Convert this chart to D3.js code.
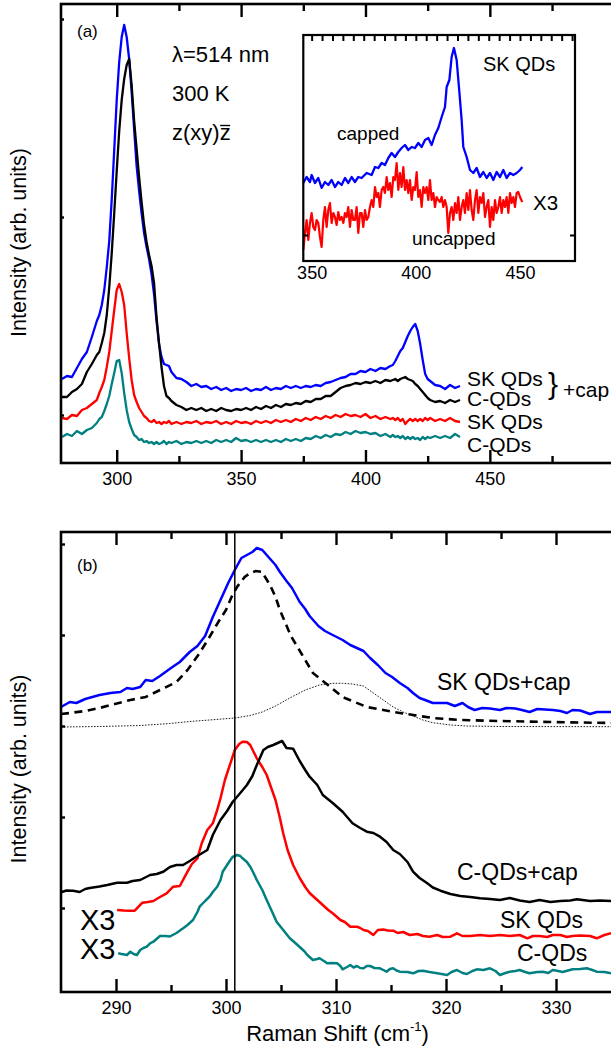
<!DOCTYPE html>
<html>
<head>
<meta charset="utf-8">
<script src="https://cdn.jsdelivr.net/npm/d3@7"></script>
<style>
  html, body { margin: 0; padding: 0; background: #fff; }
  svg { display: block; font-family: "Liberation Sans", Arial, Helvetica, sans-serif; }
</style>
</head>
<body>
<svg id="chart" width="611" height="1051"></svg>
<script>
// ---------- Panel (a): full Raman spectra, shared wavenumber grid (cm-1) ----------
const shiftA = [
  278, 280, 282, 284, 286, 288, 290, 292,
  293, 294, 295, 296, 297, 298, 299, 300, 301, 302,
  303, 304, 305, 306, 307, 308, 309, 310, 311, 312,
  313, 314, 315, 316, 317, 318, 319, 320, 321, 322,
  324, 326, 328, 330, 332, 334, 336, 338, 340, 342,
  344, 346, 348, 350, 352, 354, 356, 358, 360, 362,
  364, 366, 368, 370, 372, 374, 376, 378, 380, 382,
  384, 386, 388, 390, 392, 394, 396, 398, 400, 402,
  404, 406, 408, 410,
  411, 412, 413, 414, 415, 416, 417, 418, 419, 420,
  421, 422, 423, 424, 425, 426,
  428, 430, 432, 434, 436, 438
];
// SK QDs + cap
const skCapA = [
  84, 87, 86, 95, 104, 111, 126, 142,
  148, 158, 173, 196, 222, 264, 313, 363, 401, 426,
  438, 426, 404, 371, 334, 297, 272, 250, 230, 216,
  204, 189, 169, 142, 119, 106, 99, 98, 97, 91,
  85, 84, 81, 77, 79, 76, 77, 74, 76, 73,
  75, 72, 74, 73, 75, 72, 74, 73, 76, 73,
  75, 74, 77, 75, 77, 75, 77, 76, 78, 77,
  80, 81, 83, 85, 86, 89, 89, 92, 91, 94,
  92, 95, 94, 97,
  98, 102, 107, 112, 115, 121, 127, 132, 136, 139,
  132, 119, 103, 89, 84, 82,
  78, 77, 74, 78, 75, 77
];
// C-QDs + cap
const cCapA = [
  66, 66, 71, 74, 79, 91, 99, 108,
  111, 120, 130, 148, 176, 210, 250, 292, 332, 363,
  384, 398, 404, 378, 342, 314, 286, 261, 238, 221,
  208, 197, 180, 146, 120, 96, 77, 67, 65, 62,
  58, 56, 53, 55, 53, 55, 52, 54, 52, 55,
  53, 52, 54, 53, 55, 53, 56, 54, 57, 55,
  58, 56, 59, 58, 60, 59, 62, 61, 64, 64,
  67, 67, 71, 75, 77, 78, 80, 79, 81, 80,
  82, 80, 83, 82,
  83, 84, 82, 84, 85, 86, 84, 83, 82, 79,
  77, 74, 71, 68, 65, 63,
  61, 62, 60, 63, 61, 63
];
// SK QDs (uncapped)
const skA = [
  45, 44, 48, 47, 53, 55, 59, 63,
  70, 76, 83, 96, 111, 132, 153, 173, 179, 171,
  158, 130, 105, 83, 68, 61, 55, 51, 47, 45,
  42, 41, 43, 40, 41, 39, 41, 40, 42, 39,
  41, 39, 41, 40, 42, 39, 41, 40, 42, 39,
  41, 39, 42, 40, 41, 39, 42, 40, 42, 40,
  43, 41, 43, 41, 44, 42, 45, 43, 46, 44,
  47, 45, 48, 46, 49, 47, 48, 46, 49, 45,
  47, 44, 46, 44,
  45, 43, 45, 42, 44, 39, 42, 44, 42, 44,
  42, 44, 42, 45, 43, 45,
  42, 44, 42, 45, 42, 41
];
// C-QDs (uncapped)
const cA = [
  26, 29, 27, 32, 29, 33, 35, 40,
  44, 46, 52, 59, 67, 79, 90, 102, 103, 90,
  70, 53, 41, 34, 28, 26, 23, 24, 21, 22,
  20, 21, 19, 21, 19, 20, 22, 19, 21, 20,
  22, 19, 21, 20, 22, 20, 22, 20, 23, 21,
  23, 21, 25, 22, 23, 21, 23, 21, 23, 21,
  23, 21, 24, 22, 24, 22, 25, 24, 27, 25,
  28, 26, 29, 28, 31, 29, 32, 30, 31, 29,
  30, 27, 29, 26,
  28, 26, 27, 25, 27, 24, 26, 24, 26, 24,
  25, 23, 26, 24, 26, 25,
  27, 25, 27, 25, 29, 26
];
const ticksMajorA = [300, 350, 400, 450];
const ticksMinorA = [325, 375, 425, 475];
const ticksLeftA = [48, 246, 444];

// ---------- Inset: SK QDs, capped vs uncapped (x3), [shift, intensity] ----------
const insetCapped = [
  [346.0,78],[347.6,84],[349.2,79],[350.0,86],[351.6,78],[353.2,83],[354.8,73],[356.4,79],
  [358.0,76],[359.6,81],[361.2,74],[362.8,79],[364.4,76],[366.0,83],[367.6,78],[369.2,84],
  [370.8,79],[372.4,84],[374.0,83],[376.4,88],[378.8,86],[380.4,94],[382.0,93],[383.6,98],
  [385.2,96],[386.8,103],[388.4,108],[390.0,104],[391.6,109],[393.2,113],[394.8,116],[396.4,111],
  [398.0,114],[399.6,113],[401.2,118],[402.8,114],[404.4,121],[406.0,123],[407.6,116],[409.2,126],
  [410.8,133],[412.4,144],[414.0,154],[414.8,174],[416.1,181],[417.2,204],[418.3,213],[419.6,201],
  [420.7,174],[422.0,141],[422.8,114],[424.4,104],[426.0,91],[427.6,88],[429.2,93],[430.8,84],
  [432.4,89],[434.0,83],[435.6,88],[437.2,81],[438.8,89],[440.4,84],[442.0,91],[443.6,83],
  [445.2,88],[446.8,86],[448.4,88],[450.0,91],[451.1,94]
];
const insetUncapped = [
  [346.0,11],[346.8,28],[347.6,41],[348.4,21],[349.2,38],[350.0,48],[350.8,34],[351.6,31],
  [352.4,41],[353.2,38],[354.0,24],[354.8,14],[355.6,41],[356.4,54],[357.2,34],[358.0,51],
  [358.8,58],[359.6,38],[360.4,48],[361.2,44],[362.0,36],[362.8,49],[363.6,41],[364.4,44],
  [365.2,38],[366.0,48],[366.8,44],[367.6,54],[368.4,34],[369.2,51],[370.0,41],[370.8,41],
  [371.6,54],[372.4,28],[373.2,48],[374.0,48],[374.8,34],[375.6,51],[376.4,41],[377.2,44],
  [378.0,54],[378.8,61],[379.6,54],[380.4,74],[381.2,64],[382.0,68],[382.8,54],[383.6,71],
  [384.4,74],[385.2,68],[386.0,84],[386.8,71],[387.6,78],[388.4,64],[389.2,84],[390.0,81],
  [390.8,98],[391.6,71],[392.4,88],[393.2,74],[394.0,94],[394.8,71],[395.6,81],[396.4,68],
  [397.2,81],[398.0,61],[398.8,74],[399.6,71],[400.4,89],[401.2,64],[402.0,71],[402.8,54],
  [403.6,74],[404.4,68],[405.2,74],[406.0,61],[406.8,81],[407.6,61],[408.4,68],[409.2,54],
  [410.0,64],[410.8,61],[411.6,59],[412.4,64],[413.2,54],[414.0,61],[414.8,54],[415.6,28],
  [416.4,48],[417.2,54],[418.0,41],[418.8,58],[419.6,48],[420.4,64],[421.2,41],[422.0,54],
  [422.8,61],[423.6,48],[424.4,68],[425.2,51],[426.0,71],[426.8,51],[427.6,41],[428.4,61],
  [429.2,71],[430.0,48],[430.8,64],[431.6,58],[432.4,68],[433.2,44],[434.0,54],[434.8,61],
  [435.6,34],[436.4,54],[437.2,41],[438.0,61],[438.8,48],[439.6,54],[440.4,64],[441.2,48],
  [442.0,61],[442.8,54],[443.6,64],[444.4,48],[445.2,68],[446.0,58],[446.8,64],[447.6,54],
  [448.4,68],[449.2,69],[450.0,64],[451.1,59]
];
const ticksInsetLabels = [350, 400, 450];
const ticksInsetTop = [350,355,360,365,370,375,380,385,390,395,400,405,410,415,420,425,430,435,440,445,450,455,460,465,470,475];
const ticksInsetSide = [26];

// ---------- Panel (b): zoom on the optical phonon region, [shift, intensity] ----------
const skCapB = [
  [285.0,285],[285.8,290],[286.4,289],[287.2,293],[288.5,297],[289.5,299],[290.4,300],[291.0,304],
  [291.5,303],[292.2,305],[292.7,312],[293.3,311],[294.0,316],[295.0,324],[295.8,330],[296.7,340],
  [297.4,346],[298.1,356],[298.8,375],[299.5,392],[300.2,409],[300.8,422],[301.4,434],[301.9,437],
  [302.4,440],[302.8,444],[303.3,442],[303.7,437],[304.5,427],[304.9,420],[305.5,411],[306.0,404],
  [306.7,390],[307.2,383],[307.6,376],[308.4,366],[309.0,361],[309.7,357],[310.6,352],[311.3,347],
  [311.9,344],[312.5,341],[313.1,334],[313.8,327],[314.5,319],[315.1,315],[315.8,309],[316.5,304],
  [317.0,299],[317.6,294],[318.1,292],[318.8,289],[319.5,289],[320.1,289],[320.8,286],[321.5,289],
  [322.0,285],[322.6,282],[323.3,284],[324.0,283.5],[324.9,282],[325.5,284],[326.3,283.5],[326.9,282],
  [327.6,280],[328.3,283],[329.0,282.5],[329.7,282],[330.4,281],[331.0,279],[331.5,282],[332.2,281.5],
  [333.1,278],[333.7,280],[335.0,280]
];
// Fitted components of the SK QDs + cap spectrum
const fitMainB = [
  [285.0,278],[285.8,279],[287.2,281],[288.5,284],[289.9,288],[291.3,292],[292.7,295],[294.0,302],
  [295.5,310],[296.5,322],[297.6,339],[298.5,355],[299.3,370],[300.0,382],[300.5,395],[301.0,405],
  [301.7,415],[302.2,419],[302.7,421],[303.3,420],[303.5,416],[304.0,407],[304.5,395],[304.9,382],
  [305.4,369],[305.9,356],[306.5,345],[307.2,332],[307.9,319],[308.7,312],[309.5,305],[310.6,295],
  [311.7,290],[312.8,285],[314.3,282],[315.8,279],[317.6,276],[318.8,274],[321.3,272],[324.9,271],
  [329.5,270],[335.0,269]
];
const fitSecondB = [
  [285.0,265],[288.5,265.5],[292.2,266.5],[294.9,268.5],[296.7,270.5],[298.5,272],[300.8,274],[302.2,276.5],
  [303.3,280],[304.5,286],[305.8,294],[307.2,302],[308.5,307],[309.7,308.7],[310.6,308.7],[311.5,308],
  [312.5,306],[313.4,299],[314.3,292],[315.2,285],[316.1,280],[317.0,276],[317.9,272],[318.8,269.3],
  [320.4,267],[321.9,266],[324.9,265.5],[335.0,265.3]
];
const cCapB = [
  [285.0,99.7],[285.5,101.5],[286.1,101.3],[286.7,100],[287.2,103],[287.6,104],[288.5,105.5],[289.2,107],
  [290.1,109.3],[291.0,109.3],[291.5,111],[292.2,112],[293.1,117],[293.7,118],[294.3,120.3],[294.9,125],
  [295.5,127],[296.1,127],[296.7,131],[297.4,136],[298.3,142],[298.8,157],[299.5,172],[300.1,181],
  [300.6,190],[301.3,199],[301.9,207],[302.4,216],[302.8,227],[303.4,242],[303.8,245],[304.3,247],
  [304.7,249],[305.1,251],[305.5,244],[306.1,243.3],[306.7,231],[307.2,222],[307.6,215.3],[308.3,207],
  [308.8,197],[309.7,189],[310.6,180.3],[311.5,168.7],[312.2,164],[312.8,160.3],[313.4,159],[314.0,155.3],
  [314.6,150],[315.2,142],[315.8,138],[316.5,130],[317.0,120.3],[317.6,114],[318.3,108.7],[318.8,104.5],
  [319.5,101.3],[320.4,98],[321.3,96],[322.2,95],[323.1,93.7],[324.0,93],[324.9,92],[325.8,94],
  [326.7,91.5],[327.6,90],[328.5,92],[329.5,90],[330.4,91],[331.3,91.5],[331.9,92.7],[333.1,91],
  [334.0,91.5],[335.0,91]
];
const skB = [
  [290.1,82],[290.7,81.5],[291.2,81.3],[291.7,81.3],[292.4,89.3],[292.9,90],[293.4,91],[294.0,95],
  [294.6,98.7],[295.2,105.3],[295.8,106],[296.5,120.3],[296.9,128],[297.4,133.7],[297.8,149],[298.3,162],
  [298.8,168.7],[299.2,182],[299.5,193.7],[299.9,212],[300.4,228.7],[300.8,242],[301.2,248],[301.5,250.3],
  [301.9,250],[302.2,247],[302.8,233.7],[303.3,225],[303.7,217],[304.5,192],[304.9,174],[305.2,158.7],
  [305.6,142],[306.1,127],[306.7,114],[307.2,105],[307.6,99],[308.3,92],[308.8,87],[309.3,82],
  [309.7,78.7],[310.4,72],[310.8,70],[311.3,65.3],[311.9,65.3],[312.2,64],[312.5,62],[312.9,61],
  [313.4,57],[313.8,62],[314.3,62.5],[314.7,61.5],[315.2,61.3],[315.6,59],[316.1,60],[316.7,57],
  [317.4,58],[317.9,56],[318.5,55.3],[319.2,57],[319.7,55],[320.4,55.3],[321.0,58.7],[321.5,56],
  [322.2,56],[323.1,57],[324.0,56],[324.9,57],[325.8,56],[326.7,57],[327.4,53.7],[327.9,56],
  [328.5,56],[329.2,55],[329.7,57],[330.4,57],[331.0,55],[331.5,56],[332.2,56.5],[333.1,56],
  [333.7,53.7],[334.4,57],[335.0,58.7]
];
const cB = [
  [290.2,38.7],[290.5,38],[291.0,37],[291.3,40.3],[291.6,38],[291.9,37],[292.2,42],[292.5,44],
  [292.8,45.3],[293.1,48.7],[293.4,50.3],[294.0,56],[294.5,56],[294.9,55.5],[295.5,59],[296.1,63.7],
  [296.5,67],[297.0,72],[297.4,80],[297.6,85.3],[298.1,91],[298.5,95.3],[298.8,100],[299.2,105.3],
  [299.5,112],[299.7,120.3],[300.1,127],[300.4,132],[300.6,135],[301.0,137],[301.3,136],[301.5,133.7],
  [301.9,130],[302.2,125.3],[302.5,119],[302.8,112],[303.3,102],[303.7,92],[304.2,80],[304.6,70.3],
  [305.2,62],[305.8,53.7],[306.3,49],[306.7,45],[307.1,41],[307.4,37],[307.6,35],[307.9,32],
  [308.3,33],[308.5,33.7],[308.9,31],[309.2,28.7],[309.6,29],[310.1,28.7],[310.4,26],[310.6,22.7],
  [311.0,25],[311.3,27],[311.6,24.5],[311.9,26],[312.2,24],[312.5,23.7],[312.8,26],[313.1,26],
  [313.5,24],[314.0,23.7],[314.3,22],[314.6,20.3],[314.9,23],[315.2,23.7],[315.5,21.5],[315.8,20.3],
  [316.5,20],[317.0,18.7],[317.5,21],[317.9,21.3],[318.5,20],[319.2,18.7],[319.6,18],[320.1,17],
  [320.5,20],[321.0,22],[321.5,19],[321.9,18],[322.4,21],[322.8,22.7],[323.4,22],[324.0,23.7],
  [324.5,21],[324.9,17],[325.4,19],[325.8,20.3],[326.3,21],[326.7,22],[327.2,20],[327.6,18.7],
  [328.3,20],[328.8,20.3],[329.3,19],[329.7,22],[330.2,21],[330.6,20],[331.1,21.5],[331.5,22.7],
  [332.2,23],[332.8,23.7],[333.3,22],[333.7,20.3],[334.4,20],[335.0,18.7]
];
const bulkShift = [300.8];
const ticksMajorB = [290, 300, 310, 320, 330];
const ticksMinorB = [295, 305, 315, 325];
const ticksLeftB = [84, 175, 266, 357, 448];

// ---------- drawing ----------
const svg = d3.select("#chart");
svg.append("rect").attr("width", 611).attr("height", 1051).attr("fill", "#fff");

const COL = { blue: "#0000ff", red: "#ff0000", black: "#000000", teal: "#008080" };

function styleAxis(g, fontSize, tickWidth) {
  g.select(".domain").remove();
  g.selectAll(".tick line").attr("stroke", "#000").attr("stroke-width", tickWidth);
  g.selectAll(".tick text").attr("fill", "#000").attr("font-size", fontSize)
    .attr("font-family", "'Liberation Sans', Arial, sans-serif");
}

function frameAxes(root, x, y, box, opt) {
  // bottom major ticks with labels
  root.append("g").attr("transform", `translate(0,${box.bottom})`)
    .call(d3.axisBottom(x).tickValues(opt.major).tickSize(-opt.majorLen).tickPadding(opt.pad).tickFormat(d3.format("d")))
    .call(g => styleAxis(g, opt.fs, opt.tw));
  if (opt.minor) {
    root.append("g").attr("transform", `translate(0,${box.bottom})`)
      .call(d3.axisBottom(x).tickValues(opt.minor).tickSize(-opt.minorLen).tickFormat(""))
      .call(g => styleAxis(g, opt.fs, opt.tw));
  }
  // top ticks
  root.append("g").attr("transform", `translate(0,${box.top})`)
    .call(d3.axisTop(x).tickValues(opt.topMajor || opt.major).tickSize(-(opt.topLen || opt.majorLen)).tickFormat(""))
    .call(g => styleAxis(g, opt.fs, opt.tw));
  if (opt.minor && !opt.topMajor) {
    root.append("g").attr("transform", `translate(0,${box.top})`)
      .call(d3.axisTop(x).tickValues(opt.minor).tickSize(-opt.minorLen).tickFormat(""))
      .call(g => styleAxis(g, opt.fs, opt.tw));
  }
  // left (and optional right) ticks
  root.append("g").attr("transform", `translate(${box.left},0)`)
    .call(d3.axisLeft(y).tickValues(opt.left).tickSize(-opt.leftLen).tickFormat(""))
    .call(g => styleAxis(g, opt.fs, opt.tw));
  if (opt.right) {
    root.append("g").attr("transform", `translate(${box.right},0)`)
      .call(d3.axisRight(y).tickValues(opt.left).tickSize(-opt.leftLen).tickFormat(""))
      .call(g => styleAxis(g, opt.fs, opt.tw));
  }
  // frame
  root.append("rect")
    .attr("x", box.left).attr("y", box.top)
    .attr("width", box.right - box.left).attr("height", box.bottom - box.top)
    .attr("fill", "none").attr("stroke", "#000").attr("stroke-width", opt.frameW);
}

function addText(root, x, y, str, size, anchor) {
  return root.append("text").attr("x", x).attr("y", y).attr("font-size", size)
    .attr("text-anchor", anchor || "start").attr("fill", "#000").text(str);
}

// ===== Panel (a) =====
const boxA = { left: 61, right: 614, top: 4, bottom: 463 };
const xA = d3.scaleLinear().domain([277.6, 498.7]).range([61, 611]);
const yA = d3.scaleLinear().domain([0, 460]).range([463, 3]);
const gA = svg.append("g");

const lineA = d3.line().x(d => xA(d[0])).y(d => yA(d[1]));
[[cA, COL.teal], [skA, COL.red], [skCapA, COL.blue], [cCapA, COL.black]].forEach(([vals, c]) => {
  gA.append("path").datum(d3.zip(shiftA, vals)).attr("d", lineA)
    .attr("fill", "none").attr("stroke", c).attr("stroke-width", 2.3).attr("stroke-linejoin", "round");
});

frameAxes(gA, xA, yA, boxA, {
  major: ticksMajorA, minor: ticksMinorA, majorLen: 13, minorLen: 7, pad: 9.5, fs: 18, tw: 2.4,
  left: ticksLeftA, leftLen: 3, frameW: 2.6
});

addText(gA, 77, 37, "(a)", 17);
addText(gA, 172, 62, "λ=514 nm", 22);
addText(gA, 172, 101, "300 K", 22);
const geom = addText(gA, 172, 140, "z(xy)z", 22);
{
  // bar over the final z (backscattering direction)
  const node = geom.node();
  const x0 = node.getStartPositionOfChar(5).x, x1 = node.getEndPositionOfChar(5).x;
  gA.append("line").attr("x1", x0 + 0.5).attr("x2", x1 - 0.5).attr("y1", 125.5).attr("y2", 125.5)
    .attr("stroke", "#000").attr("stroke-width", 1.4);
}
addText(gA, 467, 386, "SK QDs", 21);
addText(gA, 467, 406, "C-QDs", 21);
addText(gA, 467, 429, "SK QDs", 21);
addText(gA, 467, 452, "C-QDs", 21);
addText(gA, 548, 394, "}", 30);
addText(gA, 563, 397, "+cap", 21);

gA.append("text").attr("transform", "translate(26,242.5) rotate(-90)")
  .attr("text-anchor", "middle").attr("font-size", 21.5).text("Intensity (arb. units)");

// ===== Inset =====
const boxI = { left: 303.3, right: 575, top: 35, bottom: 261 };
const xI = d3.scaleLinear().domain([346, 476.4]).range([303.3, 575]);
const yI = d3.scaleLinear().domain([0, 226]).range([261, 35]);
const gI = svg.append("g");
gI.append("rect").attr("x", boxI.left).attr("y", boxI.top).attr("width", boxI.right - boxI.left)
  .attr("height", boxI.bottom - boxI.top).attr("fill", "#fff");
const lineI = d3.line().x(d => xI(d[0])).y(d => yI(d[1]));
gI.append("path").datum(insetUncapped).attr("d", lineI).attr("fill", "none")
  .attr("stroke", COL.red).attr("stroke-width", 2.2).attr("stroke-linejoin", "round");
gI.append("path").datum(insetCapped).attr("d", lineI).attr("fill", "none")
  .attr("stroke", COL.blue).attr("stroke-width", 2.3).attr("stroke-linejoin", "round");
frameAxes(gI, xI, yI, boxI, {
  major: ticksInsetLabels, majorLen: 0, pad: 5.5, fs: 18, tw: 2,
  topMajor: ticksInsetTop, topLen: 6,
  left: ticksInsetSide, leftLen: 5, right: true, frameW: 2.2
});
addText(gI, 483, 71, "SK QDs", 20);
addText(gI, 337, 140, "capped", 19);
addText(gI, 533, 210, "X3", 20.5);
addText(gI, 412, 245, "uncapped", 19);

// ===== Panel (b) =====
const boxB = { left: 61, right: 614, top: 532, bottom: 992 };
const xB = d3.scaleLinear().domain([285, 335]).range([61, 611]);
const yB = d3.scaleLinear().domain([0, 460]).range([992, 532]);
const gB = svg.append("g");
const lineB = d3.line().x(d => xB(d[0])).y(d => yB(d[1]));

gB.append("path").datum(fitSecondB).attr("d", lineB).attr("fill", "none")
  .attr("stroke", "#222").attr("stroke-width", 1).attr("stroke-dasharray", "1.6,1.4");
gB.append("path").datum(fitMainB).attr("d", lineB).attr("fill", "none")
  .attr("stroke", "#000").attr("stroke-width", 2.6).attr("stroke-dasharray", "8,5.5");
[[cB, COL.teal], [skB, COL.red], [cCapB, COL.black], [skCapB, COL.blue]].forEach(([vals, c]) => {
  gB.append("path").datum(vals).attr("d", lineB).attr("fill", "none")
    .attr("stroke", c).attr("stroke-width", 2.5).attr("stroke-linejoin", "round");
});
// bulk phonon position
gB.selectAll("line.bulk").data(bulkShift).join("line").attr("class", "bulk")
  .attr("x1", d => xB(d)).attr("x2", d => xB(d))
  .attr("y1", yB.range()[1]).attr("y2", yB.range()[0])
  .attr("stroke", "#000").attr("stroke-width", 1.5);

frameAxes(gB, xB, yB, boxB, {
  major: ticksMajorB, minor: ticksMinorB, majorLen: 13, minorLen: 7, pad: 9.5, fs: 18, tw: 2.4,
  left: ticksLeftB, leftLen: 4, frameW: 2.6
});

addText(gB, 77, 571, "(b)", 17);
addText(gB, 437, 690, "SK QDs+cap", 23);
addText(gB, 457, 880, "C-QDs+cap", 23);
addText(gB, 500, 928, "SK QDs", 23);
addText(gB, 517, 961, "C-QDs", 23);
addText(gB, 80, 930, "X3", 29);
addText(gB, 80, 958.5, "X3", 29);

gB.append("text").attr("transform", "translate(26,769) rotate(-90)")
  .attr("text-anchor", "middle").attr("font-size", 21.5).text("Intensity (arb. units)");

const xt = gB.append("text").attr("x", 337.5).attr("y", 1041).attr("text-anchor", "middle").attr("font-size", 22);
xt.append("tspan").text("Raman Shift (cm");
xt.append("tspan").attr("dy", -10).attr("font-size", 13).text("-1");
xt.append("tspan").attr("dy", 10).text(")");
</script>
</body>
</html>
